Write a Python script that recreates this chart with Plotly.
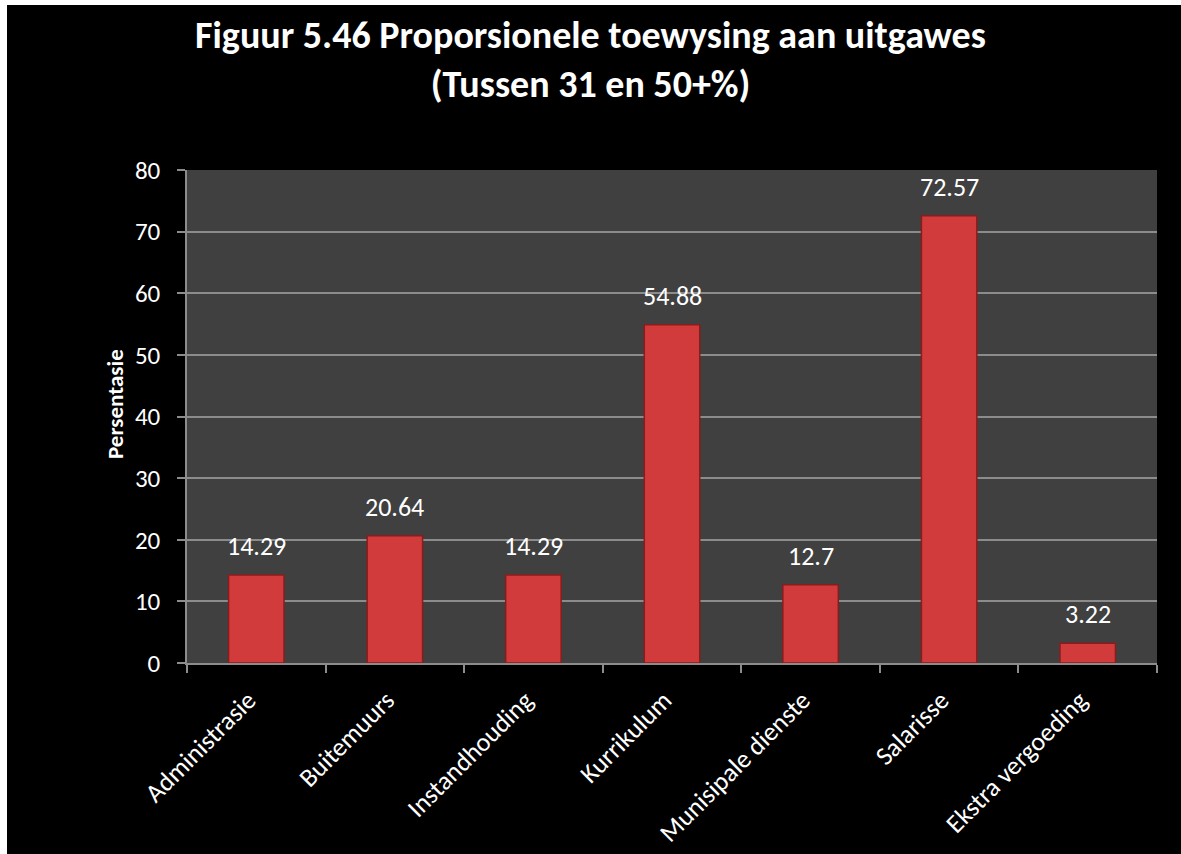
import plotly.graph_objects as go

categories = ["Administrasie", "Buitemuurs", "Instandhouding", "Kurrikulum",
              "Munisipale dienste", "Salarisse", "Ekstra vergoeding"]
values = [14.29, 20.64, 14.29, 54.88, 12.7, 72.57, 3.22]
value_labels = ["14.29", "20.64", "14.29", "54.88", "12.7", "72.57", "3.22"]
y_ticks = [0, 10, 20, 30, 40, 50, 60, 70, 80]

FONT = "Carlito, Calibri, 'Open Sans', sans-serif"

fig = go.Figure()
fig.add_trace(go.Bar(
    x=categories, y=values,
    marker=dict(color="#d23b3b", line=dict(color="#8a1c1c", width=1.5)),
    width=0.4,
    hoverinfo="x+y",
))

for c, v, t in zip(categories, values, value_labels):
    fig.add_annotation(x=c, y=v, text=t, showarrow=False, yanchor="bottom",
                       yshift=11, font=dict(family=FONT, size=26, color="white"))

W, H = 1181, 854
L, R, T, B = 187, 24, 170, 191
pw, ph = W - L - R, H - T - B

def px(xp):
    return (xp - L) / pw

def py(yp):
    return 1 - (yp - T) / ph

# thin white strips at top and left edges of the picture
fig.add_shape(type="rect", xref="paper", yref="paper", layer="below",
              x0=px(0), x1=px(7), y0=py(H), y1=py(0),
              fillcolor="white", line=dict(width=0))
fig.add_shape(type="rect", xref="paper", yref="paper", layer="below",
              x0=px(0), x1=px(W), y0=py(5), y1=py(0),
              fillcolor="white", line=dict(width=0))

# y axis title
fig.add_annotation(xref="paper", yref="paper", x=px(115), y=py(404),
                   text="<b>Persentasie</b>", textangle=-90, showarrow=False,
                   xanchor="center", yanchor="middle",
                   font=dict(family=FONT, size=23, color="white"))

fig.update_layout(
    width=W, height=H,
    margin=dict(l=L, r=R, t=T, b=B, autoexpand=False),
    paper_bgcolor="black",
    plot_bgcolor="#404040",
    showlegend=False,
    title=dict(
        text="<b>Figuur 5.46 Proporsionele toewysing aan uitgawes<br>(Tussen 31 en 50+%)</b>",
        x=0.5, xanchor="center", y=1 - 48 / H, yanchor="middle",
        font=dict(family=FONT, size=38, color="white"),
    ),
    font=dict(family=FONT, color="white"),
)

fig.update_yaxes(
    range=[0, 80], tickvals=y_ticks, ticktext=[str(t) for t in y_ticks],
    showgrid=True, gridcolor="#8c8c8c", gridwidth=1.5,
    showline=True, linecolor="#8c8c8c", linewidth=1.5,
    ticks="outside", ticklen=8, tickcolor="#8c8c8c", tickwidth=1.5,
    tickfont=dict(family=FONT, size=25, color="white"),
    ticklabelstandoff=12, automargin=False,
    zeroline=False,
)
fig.update_xaxes(
    showline=True, linecolor="#8c8c8c", linewidth=1.5,
    ticks="outside", ticklen=8, tickcolor="#8c8c8c", tickwidth=1.5,
    tickson="boundaries", tickangle=-45,
    tickfont=dict(family=FONT, size=26, color="white"),
    ticklabelstandoff=10, ticklabelshift=-8, automargin=False,
    showgrid=False,
)

fig.write_html("out.html", config={"displayModeBar": False},
               post_script="document.body.style.margin='0px';"
                           "document.body.style.background='black';"
                           "document.documentElement.style.background='black';"
                           "document.documentElement.style.overflow='hidden';")
